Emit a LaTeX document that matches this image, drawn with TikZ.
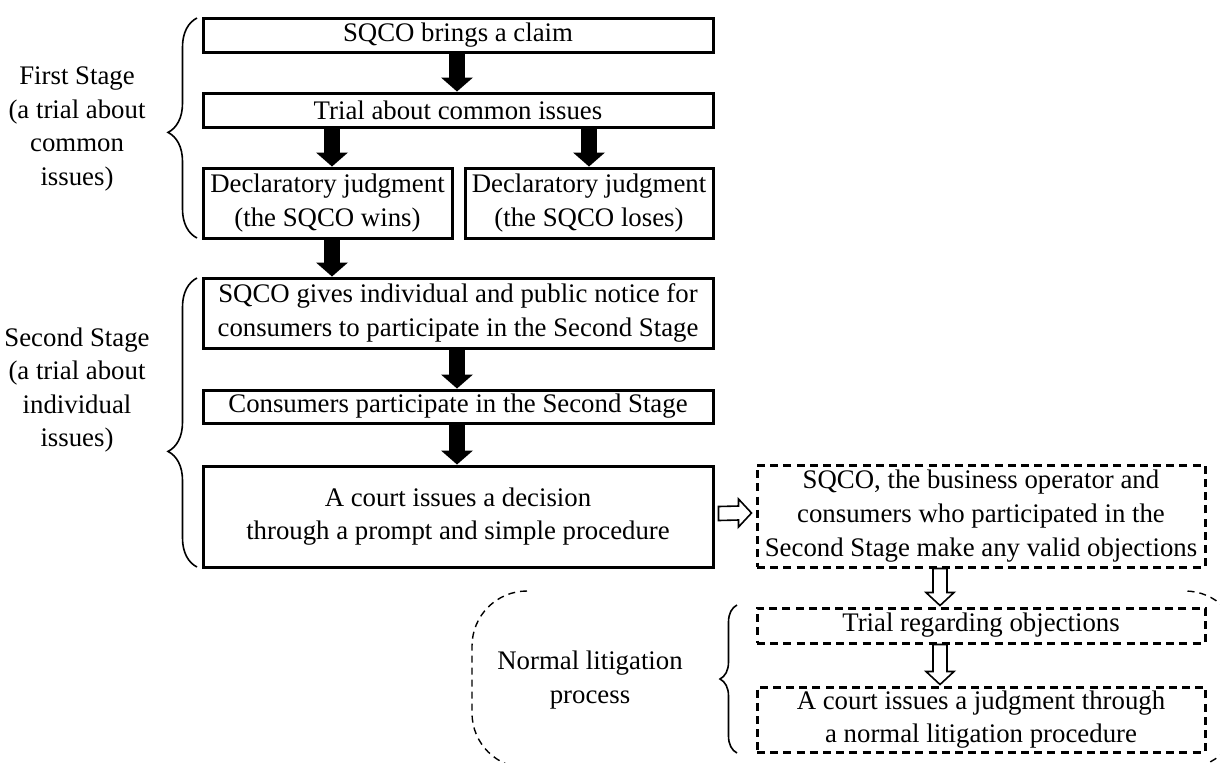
\documentclass[tikz,border=0pt]{standalone}
\usepackage{fontspec}
\setmainfont{Liberation Serif}
\usetikzlibrary{arrows.meta,decorations.pathreplacing,calc}
\newcommand\fs{\fontsize{13.4pt}{16.8pt}\selectfont}
\newcommand\hdown[2]{\draw[harr] ($(#1)+(-7,0)$) -- ($(#2)+(-7,-13)$) -- ($(#2)+(-14,-13)$) -- (#2) -- ($(#2)+(14,-13)$) -- ($(#2)+(7,-13)$) -- ($(#1)+(7,0)$) -- cycle;}
\newcommand\hright[2]{\draw[harr] ($(#1)+(0,-7)$) -- ($(#2)+(-13,-7)$) -- ($(#2)+(-13,-14)$) -- (#2) -- ($(#2)+(-13,14)$) -- ($(#2)+(-13,7)$) -- ($(#1)+(0,7)$) -- cycle;}
\tikzset{
  box/.style={draw, line width=1.5pt, inner sep=0pt, align=center, font=\fs},
  dbox/.style={box, dash pattern=on 4pt off 2.6pt},
  lbl/.style={align=center, font=\fs, inner sep=0pt},
  blk/.style={line width=8pt, -{Triangle[width=16pt,length=7pt,line width=0pt]}},
  harr/.style={draw, fill=white, line width=0.8pt, line join=miter},
  brc/.style={decorate, line width=0.8pt},
  outline/.style={line width=0.7pt, dash pattern=on 3.5pt off 2.5pt}
}
\begin{document}
\begin{tikzpicture}[x=0.5pt,y=-0.5pt]
\useasboundingbox (0,0) rectangle (1220,762);
% main column
\node[box, minimum width=255pt, minimum height=17pt] (b1) at (458,35) {SQCO brings a claim};
\node[box, minimum width=255pt, minimum height=17pt] (b2) at (458,110) {Trial about common issues};
\node[box, minimum width=124.5pt, minimum height=35pt] (b3) at (327.5,203) {Declaratory judgment\\(the SQCO wins)};
\node[box, minimum width=124pt, minimum height=35pt] (b4) at (589,203) {Declaratory judgment\\(the SQCO loses)};
\node[box, minimum width=255pt, minimum height=35pt] (b5) at (458,313) {SQCO gives individual and public notice for\\consumers to participate in the Second Stage};
\node[box, minimum width=255pt, minimum height=16.5pt] (b6) at (458,406.5) {Consumers participate in the Second Stage};
\node[box, minimum width=255pt, minimum height=50.5pt] (b7) at (458,516.5) {A court issues a decision\\through a prompt and simple procedure};
% dashed column
\node[dbox, minimum width=224pt, minimum height=51pt] (b8) at (981,516) {SQCO, the business operator and\\consumers who participated in the\\Second Stage make any valid objections};
\node[dbox, minimum width=224pt, minimum height=17.5pt] (b9) at (981,625.5) {Trial regarding objections};
\node[dbox, minimum width=224pt, minimum height=32.5pt] (b10) at (981,719.5) {A court issues a judgment through\\a normal litigation procedure};
% labels
\node[lbl] (l1) at (77,129) {First Stage\\(a trial about\\common\\issues)};
\node[lbl] (l2) at (77,390) {Second Stage\\(a trial about\\individual\\issues)};
\node[lbl] (l3) at (590,680) {Normal litigation\\process};
% braces
\draw[brc, decoration={brace, amplitude=14.5pt, aspect=0.48}] (197,238) -- (197,18);
\draw[brc, decoration={brace, amplitude=14.5pt, aspect=0.4}] (197,567) -- (197,278);
\draw[brc, decoration={brace, amplitude=8.5pt, aspect=0.5}] (737,753) -- (737,605);
% black arrows
\coordinate (xa) at (457,0);
\coordinate (xl) at (332,0);
\coordinate (xr) at (589,0);
\draw[blk] (b1.south -| xa) -- (b2.north -| xa);
\draw[blk] (b2.south -| xl) -- (b3.north -| xl);
\draw[blk] (b2.south -| xr) -- (b4.north -| xr);
\draw[blk] (b3.south -| xl) -- (b5.north -| xl);
\draw[blk] (b5.south -| xa) -- (b6.north -| xa);
\draw[blk] (b6.south -| xa) -- (b7.north -| xa);
% hollow arrows
\coordinate (xh) at (940,0);
\coordinate (h1s) at ($(b7.east)+(4,-3)$);
\coordinate (h1e) at ($(b8.west)+(-4,-3)$);
\hright{h1s}{h1e}
\coordinate (h2s) at (b8.south -| xh);
\coordinate (h2e) at ($(b9.north -| xh)+(0,-1)$);
\hdown{h2s}{h2e}
\coordinate (h3s) at (b9.south -| xh);
\coordinate (h3e) at ($(b10.north -| xh)+(0,-1)$);
\hdown{h3s}{h3e}
% dashed rounded outline (top side open)
\begin{scope}
\clip (0,0) rectangle (1220,762);
\draw[outline, rounded corners=27.5pt] (527,591) -- (472,591) -- (472,768) -- (1240,768) -- (1240,591) -- (1185,591);
\end{scope}
\end{tikzpicture}
\end{document}
